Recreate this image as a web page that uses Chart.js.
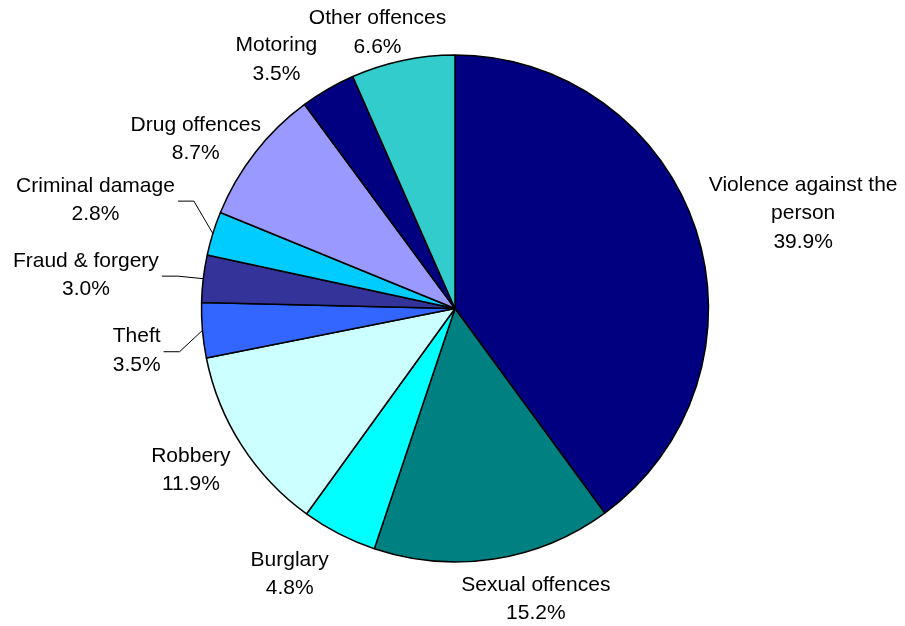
<!DOCTYPE html>
<html>
<head>
<meta charset="utf-8">
<title>Offences pie</title>
<script src="https://cdn.jsdelivr.net/npm/chart.js@4.4.1/dist/chart.umd.min.js"></script>
<style>
    html, body { margin: 0; padding: 0; background: #fff; }
    #wrap { width: 905px; height: 626px; }
</style>
</head>
<body>
<div id="wrap"><canvas id="pieChart" width="905" height="626"></canvas></div>
<script>
// Chart data
const categories = [
    ['Violence against the', 'person'],
    ['Sexual offences'],
    ['Burglary'],
    ['Robbery'],
    ['Theft'],
    ['Fraud & forgery'],
    ['Criminal damage'],
    ['Drug offences'],
    ['Motoring'],
    ['Other offences']
];
const shares = [39.9, 15.2, 4.8, 11.9, 3.5, 3.0, 2.8, 8.7, 3.5, 6.6];
const sliceColours = ['#000080', '#008080', '#00FFFF', '#CCFFFF', '#3366FF',
    '#333399', '#00CCFF', '#9999FF', '#000080', '#33CCCC'];

// Label layout tweaks (pixels) and which labels get a leader line
const labelNudge = [[8, 0], [29, 2], [-27, 6], [-9, 4], [-32, 17],
    [-35, 1], [-32, -22], [0, 10], [-26, 4], [-9, 10]];
const hasLeader = [false, false, false, false, true, true, true, false, false, false];

const FONT = '21px "Liberation Sans", Arial, sans-serif';
const LINE_H = 28.5;

// Draws the outside labels from the arc geometry
const outsideLabels = {
    id: 'outsideLabels',
    afterDatasetsDraw(chart) {
        const ctx = chart.ctx;
        const arcs = chart.getDatasetMeta(0).data;
        ctx.save();
        ctx.font = FONT;
        ctx.fillStyle = '#000';
        ctx.textAlign = 'center';
        ctx.textBaseline = 'middle';

        arcs.forEach((arc, i) => {
            const lines = categories[i].concat(shares[i].toFixed(1) + '%');
            const w = Math.max(...lines.map(t => ctx.measureText(t).width));
            const h = lines.length * LINE_H;
            const mid = (arc.startAngle + arc.endAngle) / 2;
            const dx = Math.cos(mid);
            const dy = Math.sin(mid);
            const r = arc.outerRadius + 10;
            const cx = arc.x + dx * r + dx * w / 2 + labelNudge[i][0];
            const cy = arc.y + dy * r + dy * h / 2 + labelNudge[i][1];

            lines.forEach((t, k) => {
                ctx.fillText(t, cx, cy + (k - (lines.length - 1) / 2) * LINE_H);
            });

            if (hasLeader[i]) {
                const endX = cx + w / 2 + 3;
                ctx.beginPath();
                ctx.strokeStyle = '#000';
                ctx.lineWidth = 1;
                ctx.moveTo(arc.x + dx * arc.outerRadius, arc.y + dy * arc.outerRadius);
                ctx.lineTo(endX + 16, cy + 1);
                ctx.lineTo(endX, cy + 1);
                ctx.stroke();
            }
        });
        ctx.restore();
    }
};

new Chart(document.getElementById('pieChart'), {
    type: 'pie',
    data: {
        labels: categories,
        datasets: [{
            data: shares,
            backgroundColor: sliceColours,
            borderColor: '#000',
            borderWidth: 1.5,
            hoverOffset: 0
        }]
    },
    options: {
        responsive: false,
        animation: false,
        layout: {
            padding: { top: 54.25, bottom: 63.25, left: 5, right: 0 }
        },
        plugins: {
            legend: { display: false },
            tooltip: { enabled: false }
        }
    },
    plugins: [outsideLabels]
});
</script>
</body>
</html>
